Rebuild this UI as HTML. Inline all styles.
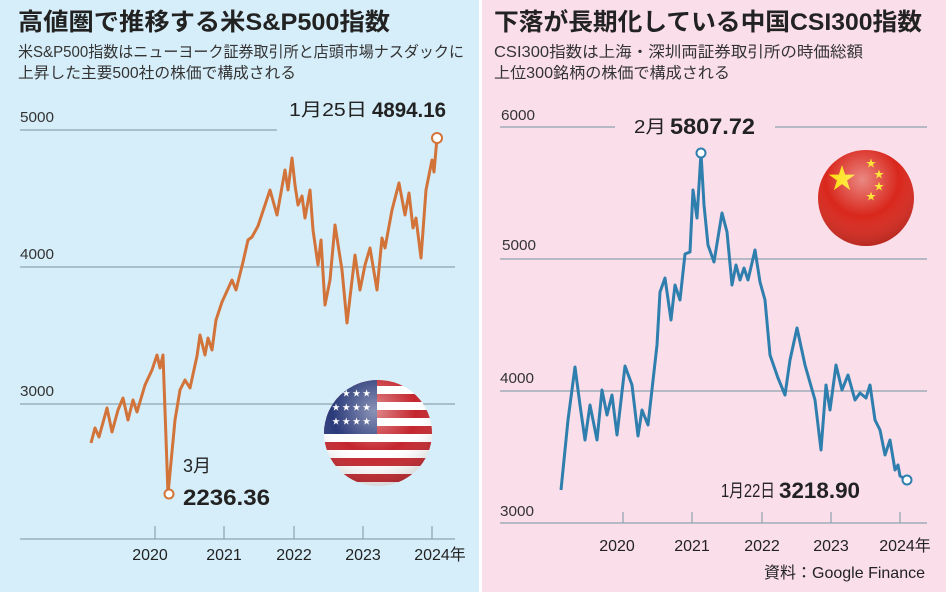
<!DOCTYPE html>
<html><head><meta charset="utf-8"><style>
body{margin:0;width:946px;height:592px;overflow:hidden;background:#fff;font-family:"Liberation Sans","Noto Sans CJK JP",sans-serif}
</style></head><body>
<svg width="946" height="592" viewBox="0 0 946 592" xmlns="http://www.w3.org/2000/svg" font-family="Liberation Sans, Noto Sans CJK JP, sans-serif">
<defs>
<radialGradient id="shine" cx="0.45" cy="0.3" r="0.7">
<stop offset="0" stop-color="#fff" stop-opacity="0.45"/><stop offset="0.5" stop-color="#fff" stop-opacity="0"/><stop offset="1" stop-color="#000" stop-opacity="0.25"/></radialGradient>
<clipPath id="us"><ellipse cx="378" cy="433" rx="54" ry="53"/></clipPath>
<clipPath id="cn"><circle cx="866" cy="198" r="48"/></clipPath>
</defs>
<rect x="0" y="0" width="479" height="592" fill="#d6eef9"/>
<rect x="482" y="0" width="464" height="592" fill="#fadeea"/>
<!-- left -->
<text x="18" y="30" font-size="24" font-weight="bold" fill="#222" textLength="372" lengthAdjust="spacingAndGlyphs">高値圏で推移する米S&amp;P500指数</text>
<text x="18" y="57" font-size="15.5" fill="#333" textLength="446" lengthAdjust="spacingAndGlyphs">米S&amp;P500指数はニューヨーク証券取引所と店頭市場ナスダックに</text>
<text x="18" y="78" font-size="15.5" fill="#333" textLength="278" lengthAdjust="spacingAndGlyphs">上昇した主要500社の株価で構成される</text>
<g stroke="#8ea3ad" stroke-width="1.2">
<line x1="20" y1="130" x2="277" y2="130"/><line x1="20" y1="267" x2="455" y2="267"/><line x1="20" y1="404" x2="455" y2="404"/><line x1="20" y1="539" x2="455" y2="539"/>
<line x1="155" y1="526" x2="155" y2="539"/><line x1="224" y1="526" x2="224" y2="539"/><line x1="294" y1="526" x2="294" y2="539"/><line x1="363" y1="526" x2="363" y2="539"/><line x1="432" y1="526" x2="432" y2="539"/>
</g>
<g font-size="15" fill="#333"><text x="20" y="122" textLength="34" lengthAdjust="spacingAndGlyphs">5000</text><text x="20" y="259" textLength="34" lengthAdjust="spacingAndGlyphs">4000</text><text x="20" y="396" textLength="34" lengthAdjust="spacingAndGlyphs">3000</text></g>
<g font-size="16" fill="#222" text-anchor="middle"><text x="150" y="560">2020</text><text x="224" y="560">2021</text><text x="294" y="560">2022</text><text x="363" y="560">2023</text><text x="440" y="560">2024年</text></g>
<text x="289" y="116" font-size="18" fill="#222" textLength="78" lengthAdjust="spacingAndGlyphs">1月25日</text><text x="372" y="117" font-size="21" font-weight="bold" fill="#222" textLength="74" lengthAdjust="spacingAndGlyphs">4894.16</text>
<text x="183" y="472" font-size="18" fill="#222">3月</text><text x="183" y="505" font-size="22" font-weight="bold" fill="#222" textLength="87" lengthAdjust="spacingAndGlyphs">2236.36</text>
<g clip-path="url(#us)">
<rect x="320" y="375" width="120" height="120" fill="#fff"/>
<g fill="#c4262e"><rect x="320" y="378" width="120" height="8"/><rect x="320" y="394" width="120" height="8"/><rect x="320" y="410" width="120" height="8"/><rect x="320" y="426" width="120" height="8"/><rect x="320" y="442" width="120" height="8"/><rect x="320" y="458" width="120" height="8"/><rect x="320" y="474" width="120" height="8"/></g>
<rect x="320" y="375" width="57" height="59" fill="#2a3a7a"/>
<g font-size="8" fill="#fff"><text x="332" y="396">★ ★ ★ ★</text><text x="332" y="410">★ ★ ★ ★</text><text x="332" y="424">★ ★ ★ ★</text></g>
<rect x="320" y="375" width="120" height="120" fill="url(#shine)"/>
</g>
<polyline fill="none" stroke="#d2733a" stroke-width="3" stroke-linejoin="round" points="91,443 95,428 99,437 107,408 112,432 118,410 123,398 128,420 133,400 137,412 145,385 152,370 157,355 160,368 163,355 168,494 175,420 180,390 185,380 190,388 197,356 200,335 205,355 208,338 212,350 216,320 222,302 232,280 236,290 243,262 248,240 252,237 258,226 265,205 270,190 277,215 285,170 288,190 292,158 295,185 298,205 302,196 305,218 310,190 313,230 318,265 321,240 325,305 330,280 335,225 342,270 347,323 355,255 360,290 365,265 370,248 377,290 382,238 385,248 392,210 399,183 405,215 409,193 413,228 416,218 421,258 426,190 432,160 434,172 437,138"/>
<circle cx="169" cy="494" r="4.5" fill="#fff" stroke="#d2733a" stroke-width="2"/>
<circle cx="437" cy="138" r="5" fill="#fff" stroke="#d2733a" stroke-width="2"/>
<!-- right -->
<text x="494" y="30" font-size="24" font-weight="bold" fill="#222" textLength="428" lengthAdjust="spacingAndGlyphs">下落が長期化している中国CSI300指数</text>
<text x="494" y="57" font-size="15.5" fill="#333" textLength="369" lengthAdjust="spacingAndGlyphs">CSI300指数は上海・深圳両証券取引所の時価総額</text>
<text x="494" y="78" font-size="15.5" fill="#333" textLength="236" lengthAdjust="spacingAndGlyphs">上位300銘柄の株価で構成される</text>
<g stroke="#8ea3ad" stroke-width="1.2">
<line x1="500" y1="127" x2="615" y2="127"/><line x1="775" y1="127" x2="927" y2="127"/><line x1="500" y1="259" x2="927" y2="259"/><line x1="500" y1="391" x2="927" y2="391"/><line x1="500" y1="523" x2="927" y2="523"/>
<line x1="623" y1="512" x2="623" y2="523"/><line x1="692" y1="512" x2="692" y2="523"/><line x1="762" y1="512" x2="762" y2="523"/><line x1="831" y1="512" x2="831" y2="523"/><line x1="900" y1="512" x2="900" y2="523"/>
</g>
<g font-size="15" fill="#333"><text x="501" y="120" textLength="34" lengthAdjust="spacingAndGlyphs">6000</text><text x="502" y="250" textLength="34" lengthAdjust="spacingAndGlyphs">5000</text><text x="500" y="383" textLength="34" lengthAdjust="spacingAndGlyphs">4000</text><text x="500" y="516" textLength="34" lengthAdjust="spacingAndGlyphs">3000</text></g>
<g font-size="16" fill="#222" text-anchor="middle"><text x="617" y="551">2020</text><text x="692" y="551">2021</text><text x="762" y="551">2022</text><text x="831" y="551">2023</text><text x="905" y="551">2024年</text></g>
<text x="925" y="578" font-size="16" fill="#222" text-anchor="end">資料：Google Finance</text>
<text x="634" y="133" font-size="18" fill="#222" textLength="32" lengthAdjust="spacingAndGlyphs">2月</text><text x="670" y="134" font-size="22" font-weight="bold" fill="#222" textLength="85" lengthAdjust="spacingAndGlyphs">5807.72</text>
<text x="721" y="497" font-size="18" fill="#222" textLength="54" lengthAdjust="spacingAndGlyphs">1月22日</text><text x="779" y="498" font-size="22" font-weight="bold" fill="#222" textLength="81" lengthAdjust="spacingAndGlyphs">3218.90</text>
<g clip-path="url(#cn)">
<rect x="815" y="148" width="105" height="105" fill="#d9271c"/>
<g fill="#ffde00"><text x="828" y="188" font-size="28">★</text><text x="866" y="167" font-size="10">★</text><text x="874" y="178" font-size="10">★</text><text x="874" y="190" font-size="10">★</text><text x="866" y="200" font-size="10">★</text></g>
<rect x="815" y="148" width="105" height="105" fill="url(#shine)"/>
</g>
<polyline fill="none" stroke="#2f7fae" stroke-width="3" stroke-linejoin="round" points="561,490 568,420 575,367 580,405 585,440 590,405 597,440 602,390 607,415 612,395 617,435 625,366 632,385 638,436 642,410 648,425 657,345 660,292 665,278 671,320 675,285 680,300 685,254 690,252 693,190 697,218 701,153 704,205 708,245 714,262 722,213 727,232 732,285 736,265 740,280 744,268 748,280 755,250 760,282 765,300 770,355 778,378 785,395 790,360 797,328 805,365 815,400 821,450 826,385 830,410 836,365 842,390 848,375 855,400 860,393 866,398 870,385 875,420 880,430 885,455 890,440 895,470 898,465 900,476 907,480"/>
<circle cx="701" cy="153" r="4.5" fill="#fff" stroke="#2f7fae" stroke-width="2"/>
<circle cx="907" cy="480" r="4.5" fill="#fff" stroke="#2f7fae" stroke-width="2"/>
</svg>
</body></html>
